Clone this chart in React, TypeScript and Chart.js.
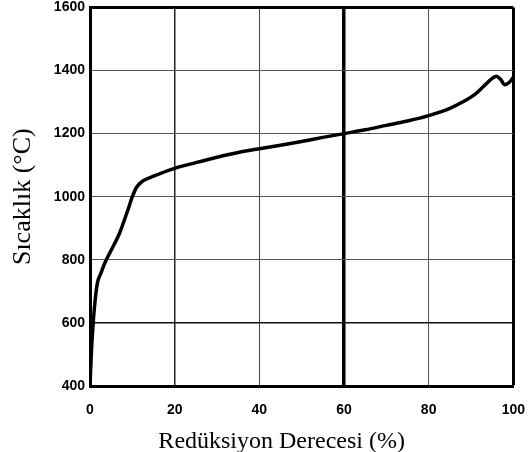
import React, { useEffect, useRef } from "react";
import { Chart, registerables } from "chart.js";

Chart.register(...registerables);

const reduction = [0, 0.3, 0.7, 1.2, 1.8, 2.5, 3.5, 5, 7, 9, 10, 11, 12.5, 15, 20, 25, 30, 35, 40, 45, 50, 55, 60, 65, 70, 75, 80, 85, 88, 91, 93, 95, 96, 97, 98, 99, 100];
const temperature = [400, 500, 590, 670, 730, 755, 790, 830, 885, 960, 1000, 1030, 1050, 1065, 1090, 1108, 1125, 1140, 1152, 1163, 1175, 1188, 1200, 1212, 1226, 1240, 1257, 1280, 1300, 1325, 1350, 1375, 1382, 1372, 1355, 1362, 1378];
const xTicks = [0, 20, 40, 60, 80, 100];
const yTicks = [400, 600, 800, 1000, 1200, 1400, 1600];
const xTitle = "Redüksiyon Derecesi (%)";
const yTitle = "Sıcaklık (°C)";

const xTitlePlugin = {
  id: "xTitlePlugin",
  afterDraw(chart: any) {
    const { ctx, chartArea } = chart;
    ctx.save();
    ctx.font = "24px 'Liberation Serif'";
    ctx.fillStyle = "#000";
    ctx.textAlign = "center";
    ctx.textBaseline = "alphabetic";
    const cx = (chartArea.left + chartArea.right) / 2 - 20;
    ctx.fillText(xTitle, cx, chartArea.bottom + 62);
    ctx.restore();
  },
};

export default function App() {
  const ref = useRef<HTMLCanvasElement>(null);
  useEffect(() => {
    const ctx = ref.current!;
    const chart = new Chart(ctx, {
      type: "line",
      data: {
        datasets: [
          {
            data: reduction.map((x, i) => ({ x, y: temperature[i] })),
            borderColor: "#000",
            borderWidth: 3.5,
            pointRadius: 0,
            tension: 0.3,
            cubicInterpolationMode: "monotone",
            fill: false,
          },
        ],
      },
      plugins: [xTitlePlugin],
      options: {
        animation: false,
        responsive: false,
        maintainAspectRatio: false,
        layout: { padding: { top: 0, right: 0, left: 0, bottom: 0 } },
        plugins: { legend: { display: false }, tooltip: { enabled: false } },
        scales: {
          x: {
            type: "linear",
            min: 0,
            max: 100,
            afterBuildTicks: (s: any) => {
              s.ticks = xTicks.map((v) => ({ value: v }));
            },
            afterFit: (s: any) => {
              s.height = 66;
            },
            border: { display: true, color: "#000", width: 3 },
            grid: {
              drawTicks: false,
              color: (c: any) => {
                const v = c.tick?.value;
                if (v === 60 || v === 100 || v === 0) return "#000";
                if (v === 20) return "#222";
                if (v === 80) return "#555";
                return "#444";
              },
              lineWidth: (c: any) => {
                const v = c.tick?.value;
                if (v === 60) return 3.5;
                if (v === 100) return 3;
                if (v === 20) return 1.5;
                return 1;
              },
            },
            ticks: {
              color: "#000",
              padding: 16,
              callback: (v: any) => String(v),
              font: { family: "Liberation Sans", weight: "bold", size: 14 },
            },
            title: { display: false },
          },
          y: {
            type: "linear",
            min: 400,
            max: 1600,
            afterBuildTicks: (s: any) => {
              s.ticks = yTicks.map((v) => ({ value: v }));
            },
            afterFit: (s: any) => {
              s.width = 90;
            },
            border: { display: true, color: "#000", width: 3 },
            grid: {
              drawTicks: false,
              color: (c: any) => {
                const v = c.tick?.value;
                if (v === 1600 || v === 400) return "#000";
                if (v === 600) return "#111";
                return "#555";
              },
              lineWidth: (c: any) => {
                const v = c.tick?.value;
                if (v === 1600) return 3;
                if (v === 600) return 1.5;
                return 1;
              },
            },
            ticks: {
              color: "#000",
              padding: 5,
              callback: (v: any) => String(v),
              font: { family: "Liberation Sans", weight: "bold", size: 14 },
            },
            title: {
              display: true,
              text: yTitle,
              color: "#000",
              font: { family: "Liberation Serif", size: 26 },
              padding: { top: 8, bottom: 4 },
            },
          },
        },
      },
    });
    return () => chart.destroy();
  }, []);
  return (
    <div style={{ position: "absolute", left: 0, top: 0, width: 528, height: 452, background: "#fff", overflow: "hidden" }}>
      <canvas
        ref={ref}
        width={541}
        height={458}
        style={{ position: "absolute", left: 0, top: -6, width: 541, height: 458 }}
      />
    </div>
  );
}
